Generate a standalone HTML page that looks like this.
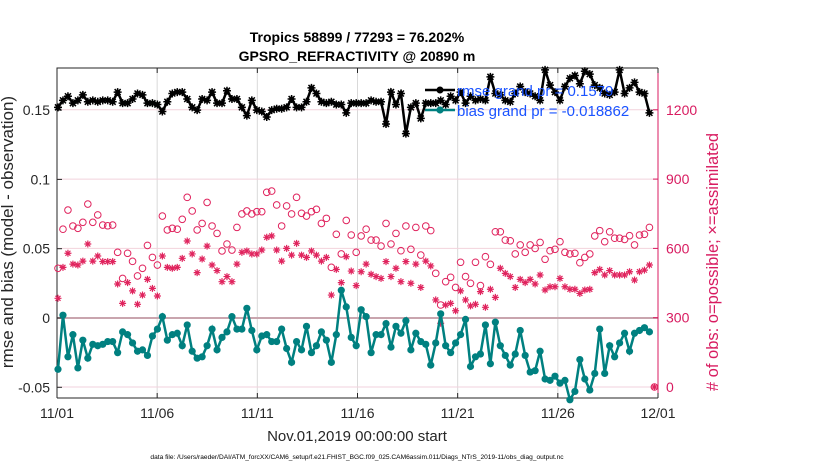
<!DOCTYPE html>
<html><head><meta charset="utf-8">
<style>
body{margin:0;background:#fff;}
svg{display:block;font-family:"Liberation Sans",sans-serif;}
</style></head>
<body>
<svg id="chart" width="830" height="470"></svg>
<script>
const xTickLabels=["11/01","11/06","11/11","11/16","11/21","11/26","12/01"];
const xTickDays=[0,5,10,15,20,25,30];
const leftTicks=[-0.05,0,0.05,0.1,0.15];
const leftTickLabels=["-0.05","0","0.05","0.1","0.15"];
const rightTicks=[0,300,600,900,1200];
const rmse=[0.152,0.157,0.160,0.155,0.157,0.161,0.156,0.157,0.156,0.157,0.157,0.156,0.163,0.155,0.155,0.158,0.162,0.161,0.155,0.155,0.154,0.149,0.156,0.162,0.163,0.163,0.158,0.152,0.150,
0.158,0.157,0.163,0.155,0.155,0.164,0.158,0.158,0.152,0.146,0.157,0.150,0.149,0.145,0.150,0.151,0.151,0.152,0.158,0.152,0.152,0.156,0.166,0.162,0.156,0.155,0.156,0.154,0.154,0.148,0.155,0.155,
0.155,0.155,0.157,0.156,0.156,0.140,0.163,0.154,0.162,0.133,0.152,0.155,0.144,0.155,0.155,0.155,0.157,0.154,0.160,0.157,0.163,0.155,0.160,0.157,0.158,0.157,0.174,0.162,
0.161,0.157,0.156,0.162,0.167,0.163,0.162,0.160,0.157,0.179,0.168,0.163,0.157,0.167,0.173,0.175,0.169,0.178,0.176,0.168,0.166,0.162,0.161,0.163,0.179,0.162,0.166,0.170,0.163,0.162,0.148];
const bias=[-0.037,0.002,-0.028,-0.012,-0.036,-0.016,-0.029,-0.019,-0.020,-0.019,-0.017,-0.017,-0.025,-0.010,-0.012,-0.018,-0.024,-0.023,-0.027,-0.013,-0.008,0.001,-0.016,-0.012,-0.011,-0.020,-0.005,-0.024,-0.029,
-0.028,-0.020,-0.008,-0.023,-0.014,-0.010,0.001,-0.008,-0.008,0.007,-0.009,-0.023,-0.013,-0.012,-0.017,-0.017,-0.008,-0.022,-0.032,-0.017,-0.023,-0.006,-0.025,-0.020,-0.010,-0.016,-0.032,-0.012,0.020,0.008,-0.014,-0.020,
0.006,0.001,-0.025,-0.012,-0.012,-0.004,-0.021,-0.006,-0.011,-0.002,-0.023,-0.011,-0.017,-0.019,-0.034,-0.018,0.003,-0.020,-0.025,-0.018,-0.012,-0.001,-0.035,-0.028,-0.026,-0.005,-0.033,-0.003,
-0.020,-0.027,-0.034,-0.026,-0.009,-0.027,-0.039,-0.038,-0.024,-0.044,-0.045,-0.042,-0.047,-0.045,-0.059,-0.053,-0.030,-0.044,-0.052,-0.040,-0.008,-0.040,-0.020,-0.028,-0.018,-0.011,-0.024,-0.011,-0.009,-0.007,-0.010];
const possible=[514,683,766,697,687,713,792,713,745,701,698,701,583,470,579,544,481,514,613,561,528,740,680,687,683,726,821,762,680,
708,799,697,665,589,619,593,691,749,762,749,759,759,843,848,788,697,784,749,821,752,740,759,769,708,730,518,661,576,721,658,583,
654,683,636,636,610,708,619,665,590,697,596,691,571,697,677,492,355,456,475,431,540,478,449,540,439,564,531,672,
672,636,633,576,615,583,615,600,626,553,590,596,629,583,576,579,538,561,576,654,677,629,672,644,644,639,655,615,658,661,691,0];
const assimilated=[384,518,579,532,528,545,619,545,567,543,543,543,446,362,452,416,358,398,466,427,394,567,518,514,518,557,632,576,495,
554,610,528,504,456,478,456,532,583,589,576,576,593,648,654,593,545,600,571,622,571,561,589,571,545,561,398,509,452,564,502,439,
499,532,488,478,470,543,478,514,456,543,449,532,431,545,524,377,276,355,362,330,416,377,351,358,413,345,423,388,
514,492,478,431,466,452,466,446,485,420,434,434,470,434,423,423,405,420,423,495,509,485,504,485,485,485,499,463,499,506,528,0];

const NS="http://www.w3.org/2000/svg";
const svg=document.getElementById('chart');
const L=57,R=658,T=68,B=398;
const yL=v=>318-(v/0.05)*69.3;
const yR=c=>387-(c/300)*69.3;
const xI=i=>58+i*4.97;
const xD=d=>L+(R-L)*d/30;
function mk(tag,attrs,parent){const e=document.createElementNS(NS,tag);for(const k in attrs)e.setAttribute(k,attrs[k]);(parent||svg).appendChild(e);return e;}
function txt(s,attrs,parent){const e=mk('text',attrs,parent);e.textContent=s;return e;}

xTickDays.forEach((d,k)=>{if(k>0&&k<6){const g=mk('line',{x1:xD(d),x2:xD(d),y1:T,y2:B,stroke:'#d9d9d9','stroke-width':1});

}});
rightTicks.forEach(c=>{const g=mk('line',{x1:L,x2:R,y1:yR(c),y2:yR(c),stroke:'#f2d2dc','stroke-width':1});

});
const z=mk('line',{x1:L,x2:R,y1:yL(0),y2:yL(0),stroke:'#c9a5ae','stroke-width':2});



const box=mk('path',{d:`M${L},${B}V${T}H${R}M${L},${B}H${R}`,fill:'none',stroke:'#262626','stroke-width':1});


const ra=mk('line',{x1:R,x2:R,y1:T,y2:B,stroke:'#d81b60','stroke-width':1});



xTickDays.forEach((d,k)=>{mk('line',{x1:xD(d),x2:xD(d),y1:B,y2:B-5,stroke:'#262626'});mk('line',{x1:xD(d),x2:xD(d),y1:T,y2:T+5,stroke:'#262626'});
const t=txt(xTickLabels[k],{x:xD(d),y:418,'font-size':14,'text-anchor':'middle',fill:'#262626'});

});
leftTicks.forEach((v,k)=>{mk('line',{x1:L,x2:L+5,y1:yL(v),y2:yL(v),stroke:'#262626'});
const t=txt(leftTickLabels[k],{x:50,y:yL(v)+5,'font-size':14,'text-anchor':'end',fill:'#262626'});

});
rightTicks.forEach(c=>{mk('line',{x1:R,x2:R-5,y1:yR(c),y2:yR(c),stroke:'#d81b60'});
const t=txt(String(c),{x:666,y:yR(c)+5,'font-size':14,fill:'#d81b60'});

});

possible.forEach((c,i)=>{const e=mk('circle',{cx:xI(i),cy:yR(c),r:3.3,fill:'none',stroke:'#e0245e','stroke-width':1});

});
assimilated.forEach((c,i)=>{const x=xI(i),y=yR(c),r=3.5;
const e=mk('path',{d:`M${x-r},${y}H${x+r}M${x},${y-r}V${y+r}M${x-2.5},${y-2.5}L${x+2.5},${y+2.5}M${x-2.5},${y+2.5}L${x+2.5},${y-2.5}`,stroke:'#e0245e','stroke-width':1.2});

});
const bl=mk('polyline',{points:bias.map((v,i)=>xI(i)+','+yL(v)).join(' '),fill:'none',stroke:'#008080','stroke-width':2.5});


bias.forEach((v,i)=>{const e=mk('circle',{cx:xI(i),cy:yL(v),r:3.6,fill:'#008080'});

});
const rl=mk('polyline',{points:rmse.map((v,i)=>xI(i)+','+yL(v)).join(' '),fill:'none',stroke:'#000','stroke-width':2.5});


rmse.forEach((v,i)=>{const x=xI(i),y=yL(v);
const e=mk('path',{d:`M${x-4},${y}H${x+4}M${x},${y-4}V${y+4}M${x-3},${y-3}L${x+3},${y+3}M${x-3},${y+3}L${x+3},${y-3}`,stroke:'#000','stroke-width':1.5});


mk('circle',{cx:x,cy:y,r:2.5,fill:'#000'});});

let e;
e=txt("Tropics 58899 / 77293 = 76.202%",{x:357,y:42,'font-size':14,'font-weight':'bold','text-anchor':'middle',fill:'#000'});


e=txt("GPSRO_REFRACTIVITY @ 20890 m",{x:357,y:61,'font-size':14,'font-weight':'bold','text-anchor':'middle',fill:'#000'});


e=txt("Nov.01,2019 00:00:00 start",{x:357,y:441,'font-size':15,'text-anchor':'middle',fill:'#262626'});


e=txt("rmse and bias (model - observation)",{x:0,y:0,'font-size':17,'text-anchor':'middle',fill:'#262626',transform:'translate(13,232) rotate(-90)'});


e=txt("# of obs: o=possible; \u00d7=assimilated",{x:0,y:0,'font-size':16.5,'text-anchor':'middle',fill:'#d81b60',transform:'translate(718,262) rotate(-90)'});


e=txt("data file: /Users/raeder/DAI/ATM_forcXX/CAM6_setup/f.e21.FHIST_BGC.f09_025.CAM6assim.011/Diags_NTrS_2019-11/obs_diag_output.nc",{x:357,y:459,'font-size':6.6,'text-anchor':'middle',fill:'#000'});


mk('line',{x1:425,x2:455,y1:90,y2:90,stroke:'#000','stroke-width':2.5});
mk('circle',{cx:440,cy:90,r:3.5,fill:'#000'});
mk('line',{x1:425,x2:455,y1:110,y2:110,stroke:'#008080','stroke-width':2.5});
mk('circle',{cx:440,cy:110,r:3.6,fill:'#008080'});
e=txt("rmse grand pr = 0.1579",{x:457,y:96,'font-size':15,fill:'#1a53ff'});


e=txt("bias grand pr = -0.018862",{x:457,y:116,'font-size':15,fill:'#1a53ff'});


</script>
</body></html>
